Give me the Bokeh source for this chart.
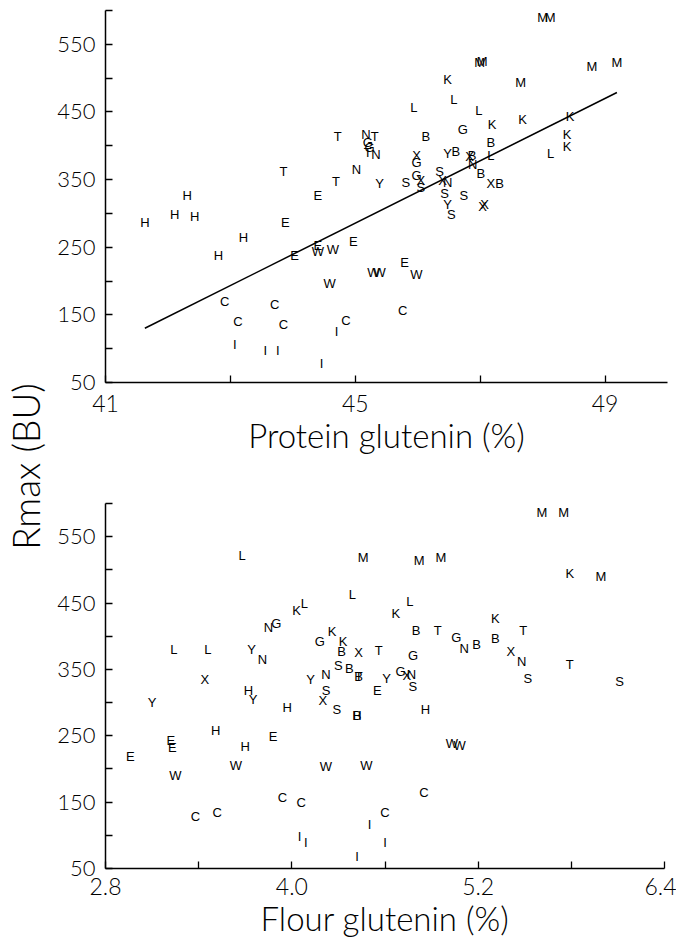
import numpy as np
from bokeh.plotting import figure
from bokeh.models import FixedTicker, PrintfTickFormatter, Label, ColumnDataSource, Range1d
from bokeh.layouts import row, column
from bokeh.embed import file_html
from bokeh.resources import INLINE
from bokeh.core.properties import value

# ---------------- data ----------------
top_letters = ["H", "H", "H", "H", "H", "H",
               "E", "E", "E", "E", "E", "E",
               "W", "W", "W", "W", "W", "W",
               "C", "C", "C", "C", "C", "C",
               "I", "I", "I", "I", "I",
               "T", "T", "T", "T", "T",
               "N", "N", "N", "G", "G", "Y",
               "S", "S", "S", "S", "S", "Y",
               "G", "G", "X", "X", "S", "N", "X",
               "B", "G", "Y", "B", "X", "B", "L", "B", "N", "B", "X", "B", "X", "X",
               "K", "K", "K", "K", "K", "K",
               "L", "L", "L", "L",
               "M", "M", "M", "M", "M", "M", "M"]
top_x = [41.63, 42.11, 42.43, 42.31, 43.21, 42.81,
         43.88, 44.40, 44.40, 44.97, 44.03, 45.79,
         44.40, 44.64, 44.59, 45.29, 45.39, 45.98,
         42.91, 43.71, 43.12, 43.85, 44.85, 45.76,
         43.07, 43.56, 43.76, 44.46, 44.70,
         43.85, 44.69, 44.72, 45.31, 45.20,
         45.17, 45.33, 45.02, 45.20, 45.23, 45.39,
         45.81, 46.35, 46.43, 46.74, 46.54, 46.48,
         45.98, 45.98, 45.98, 46.05, 46.05, 46.48, 46.40,
         46.13, 46.72, 46.48, 46.61, 46.83, 46.87, 47.17, 47.17, 46.88, 47.01, 47.17, 47.31, 47.04, 47.07,
         46.48, 47.19, 47.68, 48.44, 48.39, 48.39,
         45.94, 46.58, 46.98, 48.13,
         46.99, 47.03, 48.00, 48.12, 47.65, 48.79, 49.19]
top_y = [286, 299, 296, 326, 265, 238,
         287, 327, 253, 258, 238, 227,
         243, 247, 197, 212, 212, 210,
         170, 166, 140, 136, 142, 157,
         106, 97, 97, 78, 126,
         362, 347, 413, 413, 390,
         416, 387, 365, 405, 397, 344,
         345, 362, 330, 327, 298, 313,
         375, 356, 385, 348, 338, 345, 348,
         413, 424, 388, 391, 384, 385, 385, 405, 372, 359, 344, 344, 310, 313,
         498, 431, 439, 443, 416, 399,
         457, 468, 452, 388,
         523, 525, 589, 589, 494, 517, 523]

# fitted line: Rmax = intercept + slope * protein glutenin
fit_slope = 46.1
fit_intercept = -1788.9

bottom_letters = ["L", "M", "L", "K", "L", "N", "G", "G", "K", "K",
                  "L", "L", "Y", "N", "B", "X", "T", "S", "B",
                  "M", "M", "M", "M", "K", "M", "K", "L",
                  "B", "T", "G", "N", "B", "K", "B", "T", "X", "N", "G", "T",
                  "X", "Y", "H", "Y", "Y", "N", "B", "T", "Y", "E", "S", "X", "S", "B", "H",
                  "H", "H", "E", "E", "E", "H", "E",
                  "W", "W", "W", "W",
                  "C", "C", "C", "C", "C",
                  "I", "I", "I", "I", "I",
                  "G", "X", "N", "S", "S", "S", "H", "W", "W", "C"]
bottom_x = [3.68, 4.46, 4.39, 4.03, 4.08, 3.85, 3.90, 4.18, 4.26, 4.33,
            3.24, 3.46, 3.74, 3.81, 4.32, 4.43, 4.56, 4.30, 4.37,
            5.61, 5.75, 4.82, 4.96, 5.79, 5.99, 4.67, 4.76,
            4.80, 4.94, 5.06, 5.11, 5.19, 5.31, 5.31, 5.49, 5.41, 5.48, 4.78, 5.79,
            3.44, 3.10, 3.72, 3.75, 4.12, 4.22, 4.43, 4.43, 4.61, 4.55, 4.22, 4.20, 4.29, 4.42, 4.42,
            3.97, 3.51, 3.88, 3.22, 3.23, 3.70, 2.96,
            3.64, 4.22, 4.48, 3.25,
            3.94, 4.06, 3.38, 3.52, 4.60,
            4.50, 4.05, 4.09, 4.60, 4.42,
            4.70, 4.74, 4.77, 4.78, 5.52, 6.11, 4.86, 5.03, 5.08, 4.85]
bottom_y = [522, 519, 463, 439, 449, 413, 419, 392, 407, 392,
            380, 380, 380, 365, 377, 375, 379, 356, 351,
            586, 586, 514, 519, 495, 490, 434, 452,
            409, 409, 398, 382, 388, 427, 397, 409, 377, 362, 371, 357,
            335, 300, 318, 305, 335, 342, 339, 339, 336, 318, 318, 303, 290, 281, 281,
            293, 258, 249, 243, 232, 234, 219,
            205, 204, 205, 190,
            157, 149, 128, 134, 134,
            116, 98, 89, 89, 68,
            347, 341, 342, 324, 336, 332, 290, 238, 235, 165]

top_x_major = [41, 45, 49]
top_x_minor = [43, 47]
bot_x_major = [2.8, 4.0, 5.2, 6.4]
bot_x_minor = [3.4, 4.6, 5.8]
y_major = [50, 150, 250, 350, 450, 550]
y_minor = [100, 200, 300, 400, 500, 600]

TICK_FONT = "Lato Light"
TITLE_FONT = "Lato Light"
LETTER_FONT = "Liberation Sans"


def make_plot(xr, fw, fh, bl, br, bt, bb, xmaj, xmin, xfmt, xlabel, x_standoff, t_standoff):
    p = figure(x_range=Range1d(*xr), y_range=Range1d(50, 600),
               frame_width=fw, frame_height=fh,
               min_border_left=bl, min_border_right=br,
               min_border_top=bt, min_border_bottom=bb,
               toolbar_location=None, output_backend="svg")
    p.outline_line_color = None
    p.grid.visible = False
    p.background_fill_color = "white"
    p.border_fill_color = "white"
    for ax in (p.xaxis[0], p.yaxis[0]):
        ax.axis_line_width = 1.5
        ax.axis_line_color = "black"
        ax.major_tick_in = 7
        ax.major_tick_out = 0
        ax.minor_tick_in = 7
        ax.minor_tick_out = 0
        ax.major_tick_line_width = 1.3
        ax.minor_tick_line_width = 1.3
        ax.major_tick_line_color = "black"
        ax.minor_tick_line_color = "black"
        ax.major_label_text_font = TICK_FONT
        ax.major_label_text_color = "black"
    p.xaxis.ticker = FixedTicker(ticks=xmaj, minor_ticks=xmin)
    p.xaxis.formatter = PrintfTickFormatter(format=xfmt)
    p.xaxis.major_label_text_font_size = "23px"
    p.xaxis.major_label_standoff = x_standoff
    p.xaxis.axis_label = xlabel
    p.xaxis.axis_label_text_font = TITLE_FONT
    p.xaxis.axis_label_text_font_size = "33px"
    p.xaxis.axis_label_text_font_style = "normal"
    p.xaxis.axis_label_text_color = "black"
    p.xaxis.axis_label_standoff = t_standoff
    p.yaxis.ticker = FixedTicker(ticks=y_major, minor_ticks=y_minor)
    p.yaxis.formatter = PrintfTickFormatter(format="%d")
    p.yaxis.major_label_text_font_size = "22px"
    p.yaxis.major_label_standoff = 10
    return p


p1 = make_plot((41, 50), 562, 372, 53, 13, 10, 79, top_x_major, top_x_minor, "%d",
               "Protein glutenin (%)", 12, 0)
src1 = ColumnDataSource(dict(x=top_x, y=top_y, t=top_letters))
xs = np.array([min(top_x), max(top_x)])
p1.line(xs, fit_intercept + fit_slope * xs, line_color="black", line_width=1.5)
p1.text(x="x", y="y", text="t", source=src1, text_font=value(LETTER_FONT),
        text_font_size="13px", text_align="center", text_baseline="middle",
        text_color="black")

p2 = make_plot((2.8, 6.4), 559, 365, 57, 12, 42, 75, bot_x_major, bot_x_minor, "%.1f",
               "Flour glutenin (%)", 9, 0)
src2 = ColumnDataSource(dict(x=bottom_x, y=bottom_y, t=bottom_letters))
p2.text(x="x", y="y", text="t", source=src2, text_font=value(LETTER_FONT),
        text_font_size="13px", text_align="center", text_baseline="middle",
        text_color="black")

lf = figure(width=48, height=943, x_range=Range1d(0, 48), y_range=Range1d(0, 943),
            x_axis_type=None, y_axis_type=None, min_border=0,
            toolbar_location=None, output_backend="svg")
lf.outline_line_color = None
lf.add_layout(Label(x=25, y=477, text="Rmax (BU)", angle=np.pi / 2,
                    text_align="center", text_baseline="middle",
                    text_font=TITLE_FONT, text_font_size="37px", text_color="black"))

layout = row(lf, column(p1, p2))
open("out.html", "w").write(file_html(layout, INLINE))
